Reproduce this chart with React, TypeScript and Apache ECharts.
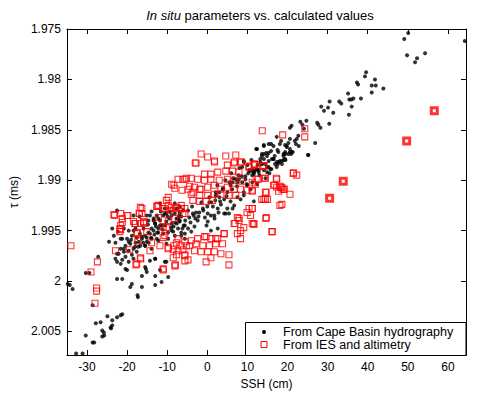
import React, { useEffect, useRef } from "react";
import * as echarts from "echarts";

const xTicks = [-30, -20, -10, 0, 10, 20, 30, 40, 50, 60];
const yTicks = [1.975, 1.98, 1.985, 1.99, 1.995, 2, 2.005];
const titleItalic = "In situ";
const titleRest = " parameters vs. calculated values";
const xName = "SSH (cm)";
const yName = "τ (ms)";
const legendNames = ["From Cape Basin hydrography", "From IES and altimetry"];

const hydroPoints: number[][] = [
  [50.6, 1.9748], [50.1, 1.9754], [49.1, 1.976], [64.2, 1.9762], [49.8, 1.9776], [52.3, 1.9779], [54.3, 1.9774], [51.8, 1.9783],
  [39.6, 1.9793], [39.3, 1.9797], [37.3, 1.9803], [37.6, 1.9805], [41.8, 1.98], [41.0, 1.9806], [42.0, 1.9806], [43.9, 1.9809],
  [41.0, 1.9813], [35.1, 1.9814], [38.3, 1.9819], [35.4, 1.982], [35.9, 1.982], [36.4, 1.9819], [30.5, 1.9822], [32.9, 1.9822],
  [33.4, 1.9824], [28.4, 1.9827], [30.1, 1.9828], [36.0, 1.9827], [29.1, 1.9831], [31.4, 1.9833], [35.3, 1.9835], [24.7, 1.9841],
  [23.2, 1.9842], [23.7, 1.9845], [27.4, 1.9843], [27.7, 1.9845], [28.2, 1.9848], [30.4, 1.9844], [21.0, 1.9846], [20.6, 1.9848],
  [24.1, 1.9849], [26.9, 1.9863], [22.7, 1.9856], [22.3, 1.9859], [21.8, 1.9861], [22.1, 1.9864], [22.8, 1.9866], [20.6, 1.9859],
  [20.2, 1.9863], [19.8, 1.9867], [19.4, 1.9865], [20.6, 1.9869], [21.3, 1.9872], [20.9, 1.9874], [20.2, 1.9874], [19.4, 1.9872],
  [19.0, 1.9876], [19.5, 1.988], [25.2, 1.9875], [18.6, 1.9884],
  [17.3, 1.9857], [18.4, 1.9861], [15.9, 1.9864], [14.1, 1.9866], [12.2, 1.9869], [15.9, 1.9871], [14.7, 1.9873], [13.6, 1.9876],
  [15.3, 1.9881], [16.5, 1.9879], [18.1, 1.9881], [17.6, 1.9884], [14.1, 1.9879], [13.2, 1.9882], [11.2, 1.9889], [11.6, 1.9892],
  [12.8, 1.989], [14.1, 1.989], [14.9, 1.9887], [9.1, 1.9881], [13.6, 1.9884], [16.8, 1.9876], [17.5, 1.987], [13.0, 1.9895],
  [14.5, 1.9898], [15.5, 1.9893], [12.5, 1.9885], [16.0, 1.9889],
  [12.4, 1.9869], [14.1, 1.9865], [15.3, 1.9864], [16.5, 1.9866], [18.1, 1.9864], [19.8, 1.9866], [20.6, 1.9872], [19.4, 1.9874],
  [17.7, 1.9872], [16.5, 1.9879], [17.3, 1.9882], [19.0, 1.988], [14.9, 1.9876], [14.1, 1.9874], [13.2, 1.9879], [13.6, 1.9884],
  [12.4, 1.9889], [11.6, 1.9892], [10.8, 1.9891], [12.8, 1.9892], [15.7, 1.9889], [17.3, 1.9887], [9.5, 1.9896], [8.7, 1.9902],
  [9.9, 1.9905], [7.5, 1.9902], [5.8, 1.9905], [5.0, 1.9912], [4.2, 1.9919], [3.0, 1.9917], [2.1, 1.9912], [3.4, 1.9924],
  [5.0, 1.9928], [6.7, 1.9925], [5.8, 1.9921], [2.6, 1.9928], [0.9, 1.9935], [4.2, 1.9933], [5.4, 1.9933], [1.8, 1.9938],
  [0.1, 1.9941], [-2.4, 1.994], [-3.6, 1.9933], [-4.8, 1.993], [-6.5, 1.9936], [-6.9, 1.9941], [-4.8, 1.9948], [-3.2, 1.9946],
  [0.9, 1.995], [2.6, 1.9948], [-5.6, 1.9953], [-6.5, 1.9955], [11.6, 1.9921], [10.8, 1.9909], [9.1, 1.9915], [7.5, 1.9917],
  [7.1, 1.9899], [8.3, 1.9919],
  [13.6, 1.9874], [15.3, 1.9873], [16.1, 1.9879], [17.8, 1.9882], [18.6, 1.9881], [19.4, 1.9879], [19.0, 1.9874], [21.0, 1.9872],
  [25.1, 1.9875], [14.5, 1.9884], [12.0, 1.989], [11.6, 1.9894], [11.2, 1.9895], [9.5, 1.9899], [9.9, 1.9904], [9.1, 1.9912],
  [11.2, 1.9902], [12.4, 1.9904], [14.9, 1.9892], [16.9, 1.9884], [15.3, 1.9887],
  [-22.5, 1.993], [-22.9, 1.9978], [-22.1, 1.9973], [-20.8, 1.9971], [-19.6, 1.997], [-21.6, 1.9968], [-20.4, 1.9965], [-19.2, 1.9963],
  [-17.9, 1.9962], [-20.0, 1.9958], [-18.8, 1.9955], [-17.6, 1.9957], [-16.3, 1.9958], [-15.1, 1.9957], [-15.5, 1.9965], [-14.3, 1.9953],
  [-13.4, 1.995], [-12.2, 1.9948], [-13.0, 1.9943], [-11.8, 1.994], [-13.4, 1.9938], [-14.7, 1.994], [-15.1, 1.9935], [-13.9, 1.9931],
  [-12.6, 1.9935], [-11.0, 1.9935], [-10.2, 1.9933], [-9.3, 1.9931], [-8.9, 1.9935], [-8.1, 1.9933], [-7.7, 1.9928], [-6.9, 1.9926],
  [-15.9, 1.9948], [-16.7, 1.9965], [-12.6, 1.9958], [-11.0, 1.9953], [-10.2, 1.9963], [-14.3, 1.998], [-13.0, 1.9978], [-10.6, 1.9981],
  [-15.5, 1.9986], [-15.1, 1.9991], [-22.5, 1.9998], [-22.9, 1.9962], [-21.6, 1.9958], [-19.6, 1.995], [-18.4, 1.9935], [-10.2, 1.9941],
  [-8.9, 1.9943], [-7.7, 1.9938], [-8.5, 1.9951], [-7.3, 1.9948], [-11.8, 1.9923], [-10.6, 1.9928], [-8.1, 1.9923], [-13.9, 1.9968],
  [-18.4, 1.9978], [-19.6, 1.9981], [-21.6, 1.9983], [-20.4, 1.9988], [-16.3, 2.0006], [-13.0, 2.0004], [-11.4, 2.0001], [-9.75, 1.9996],
  [-22.3, 1.9951], [-20.8, 1.9948], [-17.9, 1.9948],
  [-34.8, 2.0003], [-34.3, 2.0004], [-33.6, 2.0008], [-30.3, 1.9992], [-29.4, 1.9992], [-27.2, 1.9976], [-24.5, 1.9961], [-23.7, 1.9948],
  [-23.3, 1.9955], [-22.5, 1.9981], [-21.2, 1.9998], [-20.0, 1.9989], [-19.6, 1.9961], [-18.8, 2.0003], [-19.2, 2.0006], [-17.4, 2.0014],
  [-17.3, 2.0016], [-16.3, 1.9995], [-15.3, 1.9988], [-13.0, 1.9995], [-11.8, 1.9989], [-13.0, 1.9978], [-10.2, 1.9981], [-28.6, 2.0024],
  [-27.8, 2.0042], [-26.6, 2.0041], [-24.9, 2.0035], [-23.7, 2.0039], [-22.5, 2.0036], [-21.6, 2.0034], [-21.2, 2.0033], [-24.1, 2.0046],
  [-23.7, 2.0044], [-26.2, 2.0049], [-25.8, 2.0051], [-26.2, 2.0055], [-30.3, 2.0054], [-28.6, 2.0061], [-28.2, 2.0061], [-32.7, 2.0072],
  [-31.1, 2.0072], [-25.7, 2.0054], [-24.0, 2.0047],
  [-12.2, 1.9938], [-10.6, 1.9933], [-13.0, 1.9943], [-13.9, 1.9948], [-14.7, 1.9952], [-15.5, 1.9955], [-16.3, 1.9956], [-17.1, 1.9961],
  [-15.1, 1.9961], [-13.9, 1.9958], [-12.2, 1.9952], [-11.4, 1.9945], [-8.9, 1.995], [-8.1, 1.9955], [-6.5, 1.9952], [-5.6, 1.9945],
  [-7.3, 1.9938], [-6.9, 1.9932], [-15.5, 1.9965], [-17.6, 1.9971], [-18.8, 1.9974], [-20.4, 1.9976], [-21.2, 1.9979], [-18.4, 1.9968],
  [-20.8, 1.9968], [-22.5, 1.9973], [-9.75, 1.9958], [-12.2, 1.996], [-5.6, 1.9958],
  [-21.2, 1.9958], [-18.4, 1.995], [-16.9, 1.9936], [-14.3, 1.9935], [-13.4, 1.994], [-11.8, 1.9945], [-6.9, 1.994], [-5.9, 1.9945],
  [-2.8, 1.9932], [-1.1, 1.9928], [0.1, 1.9933], [1.75, 1.9935], [0.5, 1.9922], [2.1, 1.9915], [3.8, 1.9909], [6.3, 1.9902],
  [7.9, 1.9899], [9.1, 1.9882], [8.7, 1.9887], [10.4, 1.989], [4.6, 1.9933], [6.3, 1.9928],
  [-9.5, 1.9938], [-8.0, 1.9942], [-7.0, 1.9935], [-5.5, 1.994], [-4.5, 1.9937], [-3.0, 1.9938], [-2.0, 1.9932], [-1.0, 1.993],
  [0.0, 1.9926], [1.0, 1.9922], [2.0, 1.992], [3.0, 1.9912], [4.0, 1.9908], [5.5, 1.9902], [6.5, 1.9898], [7.8, 1.9895],
  [-10.5, 1.9945], [-9.0, 1.9947], [-12.5, 1.9952], [-14.0, 1.9957], [-16.0, 1.9962], [-18.0, 1.9966], [-6.0, 1.993], [-3.8, 1.9926],
  [-1.5, 1.9922], [0.5, 1.9917], [2.5, 1.9905], [4.5, 1.99], [6.0, 1.9893], [8.0, 1.9888], [10.0, 1.9885], [11.0, 1.988],
  [-14.8, 1.9944], [-12.8, 1.9946], [-11.2, 1.9949], [-9.8, 1.9952], [-8.4, 1.9946], [-7.6, 1.9943], [-6.2, 1.9948], [-4.2, 1.9942],
  [-3.4, 1.9935], [-2.2, 1.9936], [-0.6, 1.9937], [-9.9, 1.9936], [-11.6, 1.9931], [-13.2, 1.9954], [-16.8, 1.9953], [-19.0, 1.9959],
  [-17.2, 1.9966], [-14.6, 1.9962], [1.4, 1.9926], [3.2, 1.9921], [4.8, 1.9916], [6.2, 1.9909], [7.4, 1.9906], [8.6, 1.9896],
  [10.2, 1.9893], [2.8, 1.9932], [-0.2, 1.9945], [-4.0, 1.9951],
];

const iesPoints: number[][] = [
  [24.3, 1.9849], [24.3, 1.9857], [18.8, 1.9855], [21.5, 1.9893], [22.3, 1.9895], [18.6, 1.9907], [19.2, 1.9909], [20.6, 1.9914],
  [18.6, 1.9924],
  [13.7, 1.9851], [17.3, 1.9899], [16.5, 1.9905], [18.1, 1.9906], [14.1, 1.9886], [11.8, 1.9884], [10.4, 1.9886], [8.5, 1.9882],
  [12.4, 1.9899], [14.5, 1.9898], [7.1, 1.9875], [4.6, 1.9876], [1.8, 1.9882], [0.1, 1.9877], [5.0, 1.9885], [6.7, 1.9882],
  [-1.55, 1.9874], [-3.0, 1.9883], [1.75, 1.9881], [6.7, 1.9883], [8.3, 1.9882], [10.4, 1.9887], [11.7, 1.9885], [13.9, 1.9886],
  [-0.7, 1.9894], [0.9, 1.9894], [2.6, 1.9892], [4.6, 1.9891], [6.3, 1.9891], [7.9, 1.9892], [-5.6, 1.9899], [-4.0, 1.9898],
  [-2.4, 1.9899], [-0.7, 1.99], [0.9, 1.9899], [2.97, 1.99], [5.0, 1.9899], [6.7, 1.99], [8.7, 1.9901], [11.2, 1.9902],
  [14.2, 1.9898], [12.0, 1.9904], [-6.3, 1.991], [-4.8, 1.9909], [-3.2, 1.9907], [-1.55, 1.9909], [0.1, 1.9907], [1.75, 1.9905],
  [3.4, 1.9909], [5.0, 1.9907], [6.7, 1.9909], [8.3, 1.9909], [9.9, 1.991], [11.2, 1.991], [14.5, 1.9912], [17.3, 1.9907],
  [18.6, 1.9909], [-4.0, 1.9914], [-1.9, 1.9915], [0.1, 1.9915], [1.75, 1.9914], [3.4, 1.9914], [5.4, 1.9915], [7.1, 1.9915],
  [-3.6, 1.992], [-1.9, 1.9921], [-0.3, 1.9921], [1.3, 1.992], [-5.6, 1.9928], [-6.5, 1.9925], [18.1, 1.9925], [14.5, 1.9919],
  [13.6, 1.9919], [9.9, 1.9932], [11.2, 1.9928], [7.5, 1.9937], [7.9, 1.994], [6.9, 1.9943], [9.1, 1.9947], [11.6, 1.9943],
  [14.7, 1.9937], [16.1, 1.9951], [7.5, 1.9953], [8.3, 1.9958], [4.2, 1.9953], [2.6, 1.9958], [0.9, 1.9958], [-0.7, 1.9956],
  [-2.4, 1.9958], [-4.0, 1.996], [-5.6, 1.9961], [-6.5, 1.9965], [-4.4, 1.9965], [-2.8, 1.9963], [-1.1, 1.9965], [0.5, 1.9965],
  [2.1, 1.9963], [3.8, 1.9963], [-3.2, 1.997], [-1.55, 1.9971], [0.1, 1.9971], [1.75, 1.9971], [3.4, 1.9973], [5.4, 1.9974],
  [-5.6, 1.9974], [-4.8, 1.9979], [-0.3, 1.9981], [0.9, 1.9977], [5.4, 1.9984], [-7.3, 1.9958], [-7.3, 1.997],
  [-7.3, 1.9899], [-8.35, 1.9905], [-8.1, 1.9908], [-9.75, 1.9917], [-10.2, 1.992], [-12.6, 1.9926], [-11.0, 1.9928], [-8.9, 1.9927],
  [-21.6, 1.9933], [-20.0, 1.9935], [-21.2, 1.9938], [-18.4, 1.9941], [-16.7, 1.9943], [-15.9, 1.9941], [-16.9, 1.9933], [-21.8, 1.9948],
  [-21.8, 1.9951], [-17.6, 1.9953], [-15.1, 1.9951], [-11.0, 1.9946], [-10.6, 1.9955], [-13.9, 1.9962], [-11.8, 1.9965], [-14.3, 1.997],
  [-9.75, 1.9968], [-8.35, 1.9965], [-16.7, 1.9977], [-17.6, 1.9983], [-11.0, 1.9988], [-8.1, 1.9985], [-22.9, 1.997],
  [-34.0, 1.9965], [-27.4, 1.9981], [-29.0, 1.9991], [-27.6, 2.0007], [-27.6, 2.001], [-28.0, 2.0022], [-23.3, 1.9934], [-21.2, 1.9942],
  [-21.6, 1.9949], [-19.8, 1.9935], [-19.4, 1.9969], [-17.8, 1.9984], [-16.6, 1.9978], [-17.3, 1.996], [-17.4, 1.9952], [-18.1, 1.9943],
  [-15.8, 1.9943], [-16.3, 1.9928], [-17.0, 1.9933],
  [-12.2, 1.9925], [-10.6, 1.9928], [-9.75, 1.9925], [-7.7, 1.9927], [-6.5, 1.9928], [-6.1, 1.9933], [-9.75, 1.994], [-10.2, 1.9947],
  [-11.0, 1.9957], [-9.75, 1.9967], [-7.7, 1.9962], [-8.5, 1.9969], [-7.7, 1.9974], [-8.5, 1.9977], [-6.1, 1.9969], [-5.6, 1.9975],
  [-5.6, 1.998], [-5.2, 1.9965], [-7.95, 1.9984], [-11.0, 1.9989], [-8.1, 1.9938], [-12.2, 1.9937],
  [11.7, 1.9884], [13.8, 1.9886], [12.7, 1.9899], [16.8, 1.9905], [17.2, 1.9898], [18.3, 1.9907], [17.8, 1.9911], [19.0, 1.9909],
  [21.4, 1.9893], [14.7, 1.9912], [11.2, 1.9911], [14.1, 1.9919], [15.0, 1.9919], [11.2, 1.9928], [14.6, 1.9938], [11.6, 1.9944],
  [16.2, 1.9951],
  [-2.8, 1.9883], [-6.1, 1.9899], [-5.2, 1.9898], [-8.9, 1.9904], [-4.4, 1.9906], [-3.6, 1.9912], [-1.9, 1.9909], [-12.5, 1.9926],
  [-9.3, 1.993], [-7.9, 1.9928], [-5.6, 1.9933], [-16.7, 1.9927], [-16.3, 1.9933], [-23.1, 1.9935], [-21.6, 1.9945], [-17.9, 1.9943],
  [-15.9, 1.9942], [-0.3, 1.9956], [2.1, 1.9958], [4.2, 1.9953], [6.7, 1.9943], [7.9, 1.9938], [8.3, 1.995], [10.4, 1.9928],
  [10.8, 1.9935], [11.2, 1.9943],
];

const iesHighlight: number[][] = [
  [30.5, 1.9918], [33.9, 1.9901], [49.7, 1.9861], [56.6, 1.9831],
];

const FONT = "'Liberation Sans', Arial, Helvetica, sans-serif";

export default function App() {
  const ref = useRef<HTMLDivElement>(null);
  useEffect(() => {
    const chart = echarts.init(ref.current!, null, { renderer: "svg" });
    const line = { show: true, onZero: false, lineStyle: { color: "#000", width: 1 } };
    const xTick = { show: true, inside: true, length: 5, customValues: xTicks, lineStyle: { color: "#000", width: 1 } };
    const yTick = { show: true, inside: true, length: 5, customValues: yTicks, lineStyle: { color: "#000", width: 1 } };
    const fmtY = (v: number) => String(parseFloat(Number(v).toFixed(3)));
    chart.setOption({
      animation: false,
      textStyle: { fontFamily: FONT },
      grid: { left: 62, right: 38, top: 29, bottom: 39 },
      xAxis: [
        {
          type: "value", min: -35, max: 64.5, position: "bottom",
          name: xName, nameLocation: "middle", nameGap: 19,
          nameTextStyle: { color: "#000", fontSize: 12, fontFamily: FONT },
          axisLine: line, axisTick: xTick,
          axisLabel: { customValues: xTicks, margin: 6, color: "#000", fontSize: 12, fontFamily: FONT },
          splitLine: { show: false },
        },
        {
          type: "value", min: -35, max: 64.5, position: "top",
          axisLine: line, axisTick: xTick, axisLabel: { show: false }, splitLine: { show: false },
        },
      ],
      yAxis: [
        {
          type: "value", inverse: true, min: 1.975, max: 2.00735, position: "left",
          name: yName, nameLocation: "middle", nameGap: 38,
          nameTextStyle: { color: "#000", fontSize: 12, fontFamily: FONT },
          axisLine: line, axisTick: yTick,
          axisLabel: { customValues: yTicks, formatter: fmtY, margin: 6, color: "#000", fontSize: 12, fontFamily: FONT },
          splitLine: { show: false },
        },
        {
          type: "value", inverse: true, min: 1.975, max: 2.00735, position: "right",
          axisLine: line, axisTick: yTick, axisLabel: { show: false }, splitLine: { show: false },
        },
      ],
      series: [
        {
          name: legendNames[0], type: "scatter", xAxisIndex: 0, yAxisIndex: 0,
          symbol: "circle", symbolSize: 4, itemStyle: { color: "#000" }, data: hydroPoints, z: 2,
        },
        {
          name: legendNames[1], type: "scatter", xAxisIndex: 0, yAxisIndex: 0,
          symbol: "rect", symbolSize: 6,
          itemStyle: { color: "rgba(0,0,0,0)", borderColor: "#ff0000", borderWidth: 1.1 },
          data: iesPoints, z: 3,
        },
        {
          name: "highlight", type: "scatter", xAxisIndex: 0, yAxisIndex: 0,
          symbol: "rect", symbolSize: 6,
          itemStyle: { color: "#ffffff", borderColor: "#ff0000", borderWidth: 3 },
          data: iesHighlight, z: 4,
        },
      ],
      graphic: [
        {
          type: "text", x: 260, y: 15, z: 100,
          style: {
            text: "{i|" + titleItalic + "}" + titleRest,
            fill: "#000", fontSize: 13, fontFamily: FONT,
            align: "center", verticalAlign: "middle",
            rich: { i: { fontStyle: "italic", fontSize: 13, fontFamily: FONT, fill: "#000" } },
          },
        },
        {
          type: "rect", z: 100,
          shape: { x: 245.5, y: 322.5, width: 220.5, height: 33 },
          style: { fill: "#fff", stroke: "#000", lineWidth: 1 },
        },
        {
          type: "circle", z: 101,
          shape: { cx: 264, cy: 332, r: 2 },
          style: { fill: "#000" },
        },
        {
          type: "rect", z: 101,
          shape: { x: 261, y: 341.5, width: 6, height: 6 },
          style: { fill: "none", stroke: "#ff0000", lineWidth: 1 },
        },
        {
          type: "text", x: 283, y: 332, z: 101,
          style: { text: legendNames[0], fill: "#000", fontSize: 12.5, fontFamily: FONT, verticalAlign: "middle" },
        },
        {
          type: "text", x: 283, y: 344.5, z: 101,
          style: { text: legendNames[1], fill: "#000", fontSize: 12.5, fontFamily: FONT, verticalAlign: "middle" },
        },
      ],
    });
    return () => chart.dispose();
  }, []);
  return <div ref={ref} style={{ position: "absolute", left: 0, top: 0, width: 504, height: 395 }} />;
}
